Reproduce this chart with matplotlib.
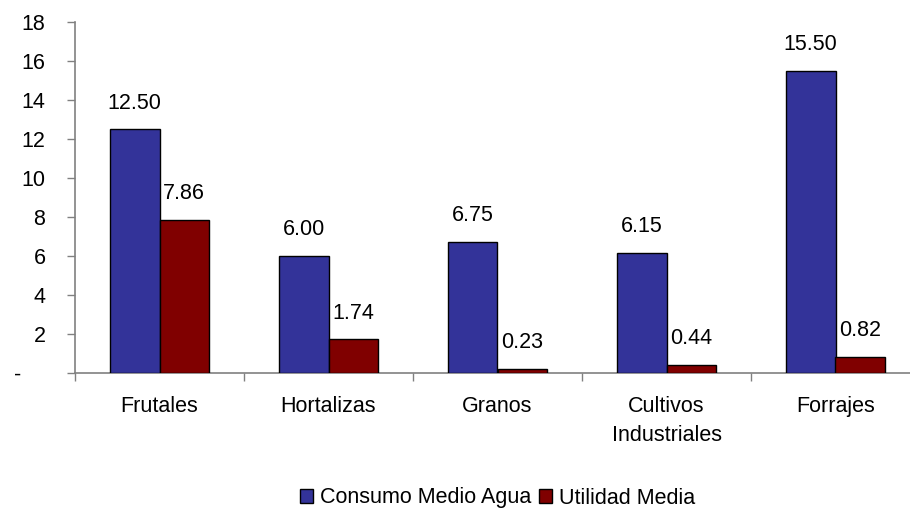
import matplotlib
matplotlib.use("Agg")
import matplotlib.pyplot as plt
import numpy as np

plt.rcParams['font.family'] = ['Liberation Sans', 'DejaVu Sans']

categories = ["Frutales", "Hortalizas", "Granos", "Cultivos\nIndustriales", "Forrajes"]
consumo_agua = [12.50, 6.00, 6.75, 6.15, 15.50]
utilidad = [7.86, 1.74, 0.23, 0.44, 0.82]
series_names = ["Consumo Medio Agua", "Utilidad Media"]
ytick_values = [0, 2, 4, 6, 8, 10, 12, 14, 16, 18]
ytick_labels = ["-    ", "2", "4", "6", "8", "10", "12", "14", "16", "18"]

blue = "#333399"
red = "#800000"
axis_grey = "#808080"
fs = 15.5

fig = plt.figure(figsize=(9.10, 5.08), dpi=100)
ax = fig.add_axes([75 / 910, (508 - 373.3) / 508, 845 / 910, 351.3 / 508])

x = np.arange(len(categories))
w = 0.293
b1 = ax.bar(x - w / 2, consumo_agua, w, color=blue, edgecolor="black", linewidth=1.0,
            label=series_names[0], zorder=3)
b2 = ax.bar(x + w / 2, utilidad, w, color=red, edgecolor="black", linewidth=1.0,
            label=series_names[1], zorder=3)

for bars, vals in ((b1, consumo_agua), (b2, utilidad)):
    for rect, v in zip(bars, vals):
        ax.annotate(f"{v:.2f}", (rect.get_x() + rect.get_width() / 2, v),
                    xytext=(0, 15), textcoords="offset points",
                    ha="center", va="baseline", fontsize=fs)

ax.set_xlim(-0.5, len(categories) - 0.5)
ax.set_ylim(0, 18)

ax.set_yticks(ytick_values)
ax.set_yticklabels(ytick_labels, fontsize=fs)
ax.tick_params(axis="y", direction="out", length=5.8, width=1, color=axis_grey, pad=15.5)

# category labels sit between the boundary ticks
ax.set_xticks(np.arange(len(categories) + 1) - 0.5)
ax.set_xticklabels([])
ax.tick_params(axis="x", direction="out", length=5.5, width=1, color=axis_grey)
ax.set_xticks(x, minor=True)
ax.set_xticklabels(categories, minor=True, fontsize=fs, linespacing=1.55)
ax.tick_params(axis="x", which="minor", length=0, pad=16)

for side in ("top", "right"):
    ax.spines[side].set_visible(False)
for side in ("left", "bottom"):
    ax.spines[side].set_color(axis_grey)
    ax.spines[side].set_linewidth(1.2)

fig.legend(handles=[b1, b2], labels=series_names, loc="center",
           bbox_to_anchor=(497.5 / 910, 10 / 508), ncol=2, frameon=False,
           fontsize=fs, handlelength=0.6, handleheight=0.6, handletextpad=0.3,
           columnspacing=0.4, borderpad=0)

fig.savefig("out.png", dpi=100)
